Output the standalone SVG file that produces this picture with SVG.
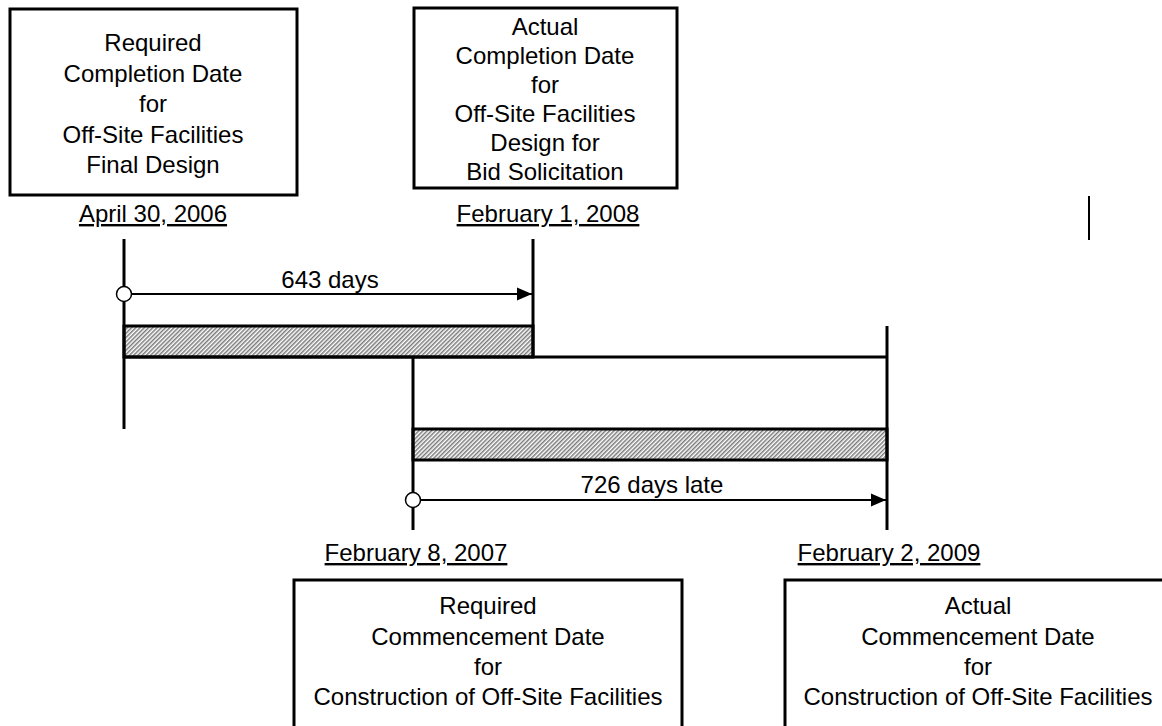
<svg xmlns="http://www.w3.org/2000/svg" width="1162" height="726" viewBox="0 0 1162 726">
<style>
text{font-family:"Liberation Sans",Arial,sans-serif;font-size:24px;fill:#000;text-anchor:middle}
.box{fill:#fff;stroke:#000;stroke-width:3}
.date{text-decoration:underline}
.heavy{stroke:#000;stroke-width:3;fill:none}
.thin{stroke:#000;stroke-width:2;fill:none}
.bar{fill:url(#hatch);stroke:#000;stroke-width:3}
</style>
<defs>
<pattern id="hatch" patternUnits="userSpaceOnUse" width="3" height="3" patternTransform="rotate(45)">
<rect width="3" height="3" fill="#fff"/>
<rect width="1.5" height="3" fill="#7a7a7a"/>
</pattern>
<marker id="arr" markerWidth="15" markerHeight="14" refX="15" refY="7" orient="auto" markerUnits="userSpaceOnUse">
<path d="M0,0.5 L15,7 L0,13.5 Z" fill="#000"/>
</marker>
</defs>

<g id="node-req-completion">
<rect class="box" x="10" y="9" width="287" height="186"/>
<text x="153" y="51">Required</text>
<text x="153" y="81.5">Completion Date</text>
<text x="153" y="112">for</text>
<text x="153" y="142.5">Off-Site Facilities</text>
<text x="153" y="173">Final Design</text>
<text class="date" x="153" y="222">April 30, 2006</text>
</g>

<g id="node-act-completion">
<rect class="box" x="414" y="8" width="263" height="180"/>
<text x="545" y="35">Actual</text>
<text x="545" y="64">Completion Date</text>
<text x="545" y="93">for</text>
<text x="545" y="122">Off-Site Facilities</text>
<text x="545" y="151">Design for</text>
<text x="545" y="180">Bid Solicitation</text>
<text class="date" x="548" y="222">February 1, 2008</text>
</g>

<g id="node-req-commencement">
<text class="date" x="416" y="561">February 8, 2007</text>
<rect class="box" x="294" y="580" width="388" height="150"/>
<text x="488" y="614">Required</text>
<text x="488" y="645">Commencement Date</text>
<text x="488" y="675">for</text>
<text x="488" y="705">Construction of Off-Site Facilities</text>
</g>

<g id="node-act-commencement">
<text class="date" x="889" y="561">February 2, 2009</text>
<rect class="box" x="785" y="580" width="386" height="150"/>
<text x="978" y="614">Actual</text>
<text x="978" y="645">Commencement Date</text>
<text x="978" y="675">for</text>
<text x="978" y="705">Construction of Off-Site Facilities</text>
</g>

<g id="connectors">
<rect class="bar" x="124" y="326" width="409" height="31"/>
<rect class="bar" x="413" y="429" width="474" height="31"/>
<line class="heavy" x1="124" y1="239" x2="124" y2="429"/>
<line class="heavy" x1="533" y1="239" x2="533" y2="357"/>
<line class="heavy" x1="124" y1="357" x2="887" y2="357"/>
<line class="heavy" x1="413" y1="357" x2="413" y2="530"/>
<line class="heavy" x1="887" y1="326" x2="887" y2="530"/>
<line x1="1089" y1="196" x2="1089" y2="240" stroke="#000" stroke-width="2"/>
<line class="thin" x1="131" y1="294" x2="532" y2="294" marker-end="url(#arr)"/>
<circle cx="124" cy="294" r="7.5" fill="#fff" stroke="#000" stroke-width="1.5"/>
<text x="330" y="288">643 days</text>
<line class="thin" x1="420" y1="500" x2="886" y2="500" marker-end="url(#arr)"/>
<circle cx="413" cy="500" r="7.5" fill="#fff" stroke="#000" stroke-width="1.5"/>
<text x="652" y="493">726 days late</text>
</g>
</svg>
